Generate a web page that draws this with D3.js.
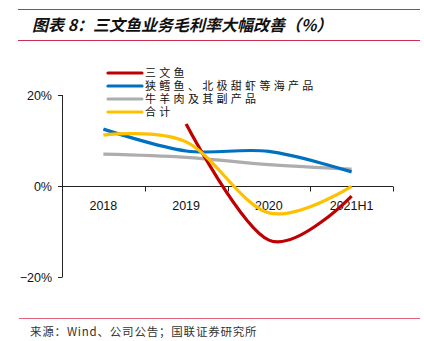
<!DOCTYPE html>
<html>
<head>
<meta charset="utf-8">
<script src="https://cdn.jsdelivr.net/npm/d3@7"></script>
<style>
  html, body { margin: 0; padding: 0; background: #fff; }
  svg { display: block; }
</style>
</head>
<body>
<div id="chart"></div>
<script>
// Категории и ряды
const categories = ['2018', '2019', '2020', '2021H1'];
const seriesNames = ['三文鱼', '狭鳕鱼、北极甜虾等海产品', '牛羊肉及其副产品', '合计'];
const salmon = [null, 13.6, -11.9, -2.2];
const pollock = [12.5, 7.7, 7.6, 3.1];
const beef = [7.0, 6.3, 4.7, 3.7];
const total = [11.2, 9.7, -5.9, -0.1];
const yTicks = [-20, 0, 20];
const colors = ['#C00000', '#0070C0', '#ADADAD', '#FFC000'];

const width = 424, height = 341;
const svg = d3.select('#chart').append('svg')
    .attr('width', width)
    .attr('height', height);

// Рамка заголовка
svg.append('line').attr('x1', 18).attr('x2', 420).attr('y1', 9.5).attr('y2', 9.5)
    .style('stroke', '#C8314D').style('stroke-width', 1.2);
svg.append('line').attr('x1', 18).attr('x2', 420).attr('y1', 40.5).attr('y2', 40.5)
    .style('stroke', '#C8314D').style('stroke-width', 1.2);
svg.append('text')
    .attr('x', 32).attr('y', 31)
    .text('图表 8：三文鱼业务毛利率大幅改善（%）')
    .style('font-family', '"Noto Sans CJK SC", sans-serif')
    .style('font-size', '16px')
    .style('font-style', 'italic')
    .style('font-weight', '700')
    .style('fill', '#111');

// Шкалы
const xScale = d3.scalePoint()
    .domain(categories)
    .range([62, 393])
    .padding(0.5);
const yScale = d3.scaleLinear()
    .domain([-20, 20])
    .range([277, 95]);

const bandStep = xScale.step();

// Ось Y
svg.append('line')
    .attr('x1', 62.5).attr('x2', 62.5)
    .attr('y1', yScale(20)).attr('y2', yScale(-20))
    .style('stroke', '#222').style('stroke-width', 1);
svg.selectAll('.y-tick')
    .data(yTicks)
    .enter()
    .append('line')
    .attr('x1', 58).attr('x2', 62.5)
    .attr('y1', d => Math.round(yScale(d)) + 0.5)
    .attr('y2', d => Math.round(yScale(d)) + 0.5)
    .style('stroke', '#222');
svg.selectAll('.y-label')
    .data(yTicks)
    .enter()
    .append('text')
    .attr('x', 52)
    .attr('y', d => yScale(d) + 4.5)
    .attr('text-anchor', 'end')
    .text(d => (d < 0 ? '−' + Math.abs(d) : d) + '%')
    .style('font-family', '"Liberation Sans", Arial, sans-serif')
    .style('font-size', '12.5px')
    .style('fill', '#111');

// Ось X (на нуле)
const y0 = Math.round(yScale(0)) + 0.5;
svg.append('line')
    .attr('x1', 62).attr('x2', 393)
    .attr('y1', y0).attr('y2', y0)
    .style('stroke', '#222');
svg.selectAll('.x-tick')
    .data(d3.range(categories.length + 1))
    .enter()
    .append('line')
    .attr('x1', i => Math.round(62 + i * bandStep) + 0.5)
    .attr('x2', i => Math.round(62 + i * bandStep) + 0.5)
    .attr('y1', y0).attr('y2', y0 + 5)
    .style('stroke', '#222');
svg.selectAll('.x-label')
    .data(categories)
    .enter()
    .append('text')
    .attr('x', d => xScale(d))
    .attr('y', y0 + 23)
    .attr('text-anchor', 'middle')
    .text(d => d)
    .style('font-family', '"Liberation Sans", Arial, sans-serif')
    .style('font-size', '12.5px')
    .style('fill', '#111');

// Линии
const allSeries = [salmon, pollock, beef, total];
const line = d3.line()
    .defined(d => d.v !== null)
    .x(d => xScale(d.c))
    .y(d => yScale(d.v))
    .curve(d3.curveCatmullRom.alpha(0));

// порядок отрисовки: серые/синие снизу, красный, затем жёлтый
[2, 1, 0, 3].forEach(i => {
    const pts = categories.map((c, j) => ({c: c, v: allSeries[i][j]})).filter(d => d.v !== null);
    svg.append('path')
        .datum(pts)
        .attr('d', line)
        .style('fill', 'none')
        .style('stroke', colors[i])
        .style('stroke-width', 3.2)
        .style('stroke-linecap', 'butt');
});

// Легенда
const legend = svg.selectAll('.legend')
    .data(seriesNames)
    .enter()
    .append('g')
    .attr('transform', (d, i) => `translate(108, ${73 + i * 13})`);
legend.append('line')
    .attr('x1', 0).attr('x2', 34)
    .style('stroke', (d, i) => colors[i])
    .style('stroke-width', 3.2)
    .style('stroke-linecap', 'round');
legend.append('text')
    .attr('x', 37)
    .attr('y', 4)
    .text(d => d)
    .style('font-family', '"Noto Sans CJK SC", sans-serif')
    .style('font-size', '11px')
    .style('letter-spacing', '3.3px')
    .style('fill', '#111');

// Источник
svg.append('line').attr('x1', 19).attr('x2', 420).attr('y1', 318.5).attr('y2', 318.5)
    .style('stroke', '#E4637C').style('stroke-width', 1.2);
svg.append('text')
    .attr('x', 30).attr('y', 336)
    .text('来源：Wind、公司公告；国联证券研究所')
    .style('font-family', '"Noto Sans CJK SC", sans-serif')
    .style('font-size', '11.5px')
    .style('letter-spacing', '0.8px')
    .style('fill', '#333');
</script>
</body>
</html>
